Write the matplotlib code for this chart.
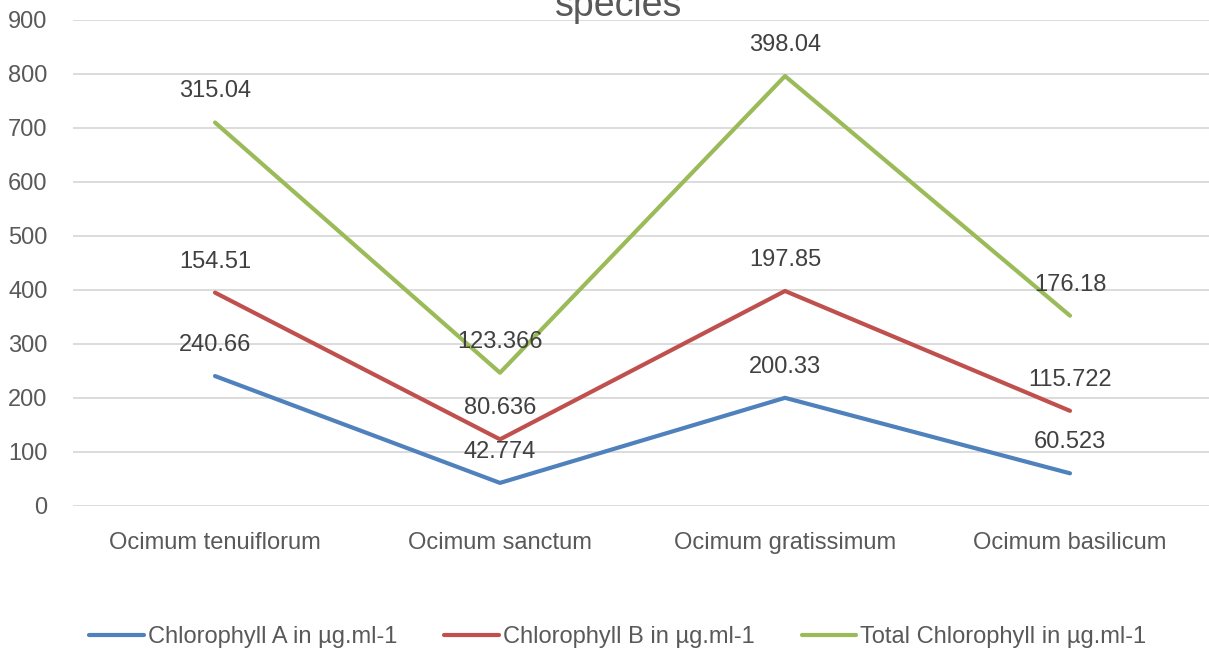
import matplotlib.pyplot as plt
import numpy as np

plt.rcParams['font.family'] = ['Liberation Sans', 'DejaVu Sans']

species = ['Ocimum tenuiflorum', 'Ocimum sanctum', 'Ocimum gratissimum', 'Ocimum basilicum']
chl_a = [240.66, 42.774, 200.33, 60.523]
chl_b = [154.51, 80.636, 197.85, 115.722]
total = [315.04, 123.366, 398.04, 176.18]
names = ['Chlorophyll A in µg.ml-1', 'Chlorophyll B in µg.ml-1', 'Total Chlorophyll in µg.ml-1']
colors = ['#4F81BD', '#C0504D', '#9BBB59']
txt = '#595959'

fig = plt.figure(figsize=(12.09, 6.54), dpi=100)
ax = fig.add_axes([72.5 / 1209, 148 / 654, 1140 / 1209, 486 / 654])

x = np.arange(len(species))
# stacked line chart, labels show the individual values
cum = np.zeros(len(species))
for vals, name, c in zip([chl_a, chl_b, total], names, colors):
    cum = cum + np.array(vals)
    ax.plot(x, cum, color=c, lw=3, label=name, solid_capstyle='round')
    for xi, yi, v in zip(x, cum, vals):
        ax.annotate(f'{v:g}', (xi, yi), xytext=(0, 31), textcoords='offset pixels',
                    ha='center', va='center', fontsize=17, color='#404040')

ax.set_xlim(-0.5, len(species) - 0.5)
ax.set_ylim(0, 900)
ax.set_yticks(range(0, 901, 100))
ax.set_xticks(x)
ax.set_xticklabels(species)
ax.tick_params(length=0, labelsize=17, colors=txt)
ax.tick_params(axis='x', pad=19)
ax.tick_params(axis='y', pad=18)
ax.grid(axis='y', color='#D9D9D9', lw=1.3)
ax.set_axisbelow(True)
for s in ax.spines.values():
    s.set_visible(False)

fig.text(0.512, 1 - 16 / 654, 'species', ha='center', va='baseline', fontsize=27, color=txt)

fig.legend(loc='center', bbox_to_anchor=(0.511, 1 - 637 / 654), ncol=3, frameon=False,
           fontsize=17, handlelength=2.3, handletextpad=0.17, columnspacing=2.0,
           labelcolor=txt)

fig.savefig('out.png', dpi=100)
